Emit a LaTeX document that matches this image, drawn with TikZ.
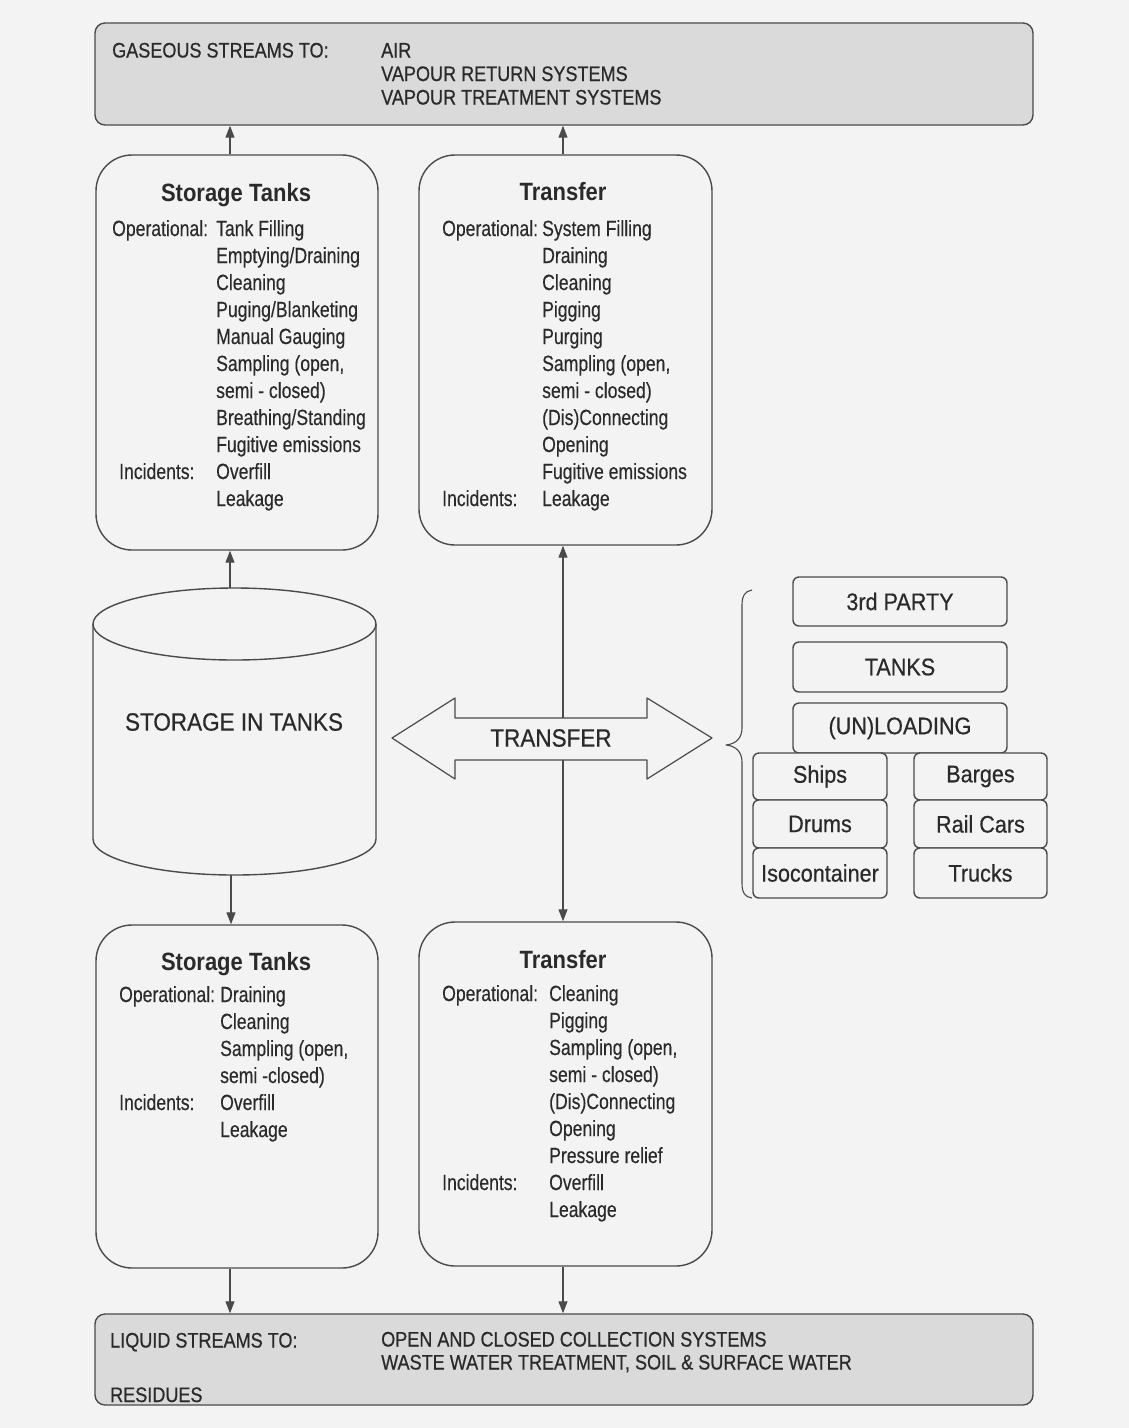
\documentclass[tikz,border=0pt]{standalone}
\usepackage{fontspec}
\setmainfont{Liberation Sans}
\newfontfamily\fbody{Liberation Sans}[FakeStretch=0.8,FakeBold=0.25]
\newfontfamily\ftitle{Liberation Sans}[FakeStretch=0.88]
\newfontfamily\fcaps{Liberation Sans}[FakeStretch=0.86,FakeBold=0.6]
\newfontfamily\fmid{Liberation Sans}[FakeStretch=0.9,FakeBold=0.5]
\usetikzlibrary{arrows.meta}
\definecolor{bg}{HTML}{F3F3F3}
\definecolor{boxgray}{HTML}{DADADA}
\definecolor{linec}{HTML}{4A4A4A}
\definecolor{textc}{HTML}{2A2A2A}
\begin{document}
\begin{tikzpicture}[x=1pt,y=1pt,line join=round,
  frame/.style={draw=linec,line width=1.4pt},
  graybox/.style={frame,fill=boxgray,rounded corners=10pt,inner sep=0pt},
  bigbox/.style={frame,fill=bg,rounded corners=36pt,inner sep=0pt},
  smallbox/.style={frame,fill=bg,rounded corners=6pt,inner sep=0pt,text=textc,font=\fmid\fontsize{24}{28}\selectfont},
  conn/.style={draw=linec,line width=1.2pt},
  tip/.style={-{Triangle[length=12pt,width=9pt]}},
  bodytxt/.style={inner sep=0pt,text=textc,anchor=base west,font=\fbody\fontsize{22}{27}\selectfont},
  titletxt/.style={inner sep=0pt,text=textc,anchor=base,font=\ftitle\bfseries\fontsize{25}{30}\selectfont},
  capstxt/.style={inner sep=0pt,text=textc,anchor=base west,font=\fcaps\fontsize{21}{24}\selectfont},
  midtxt/.style={inner sep=0pt,text=textc,font=\fmid\fontsize{25}{30}\selectfont}]
\fill[bg] (0,0) rectangle (1129,-1428);
\useasboundingbox (0,0) rectangle (1129,-1428);

% top and bottom grey boxes
\node[graybox,minimum width=938pt,minimum height=102pt] (gas) at (564,-74) {};
\node[capstxt] (gasA) at (112,-57.5) {GASEOUS STREAMS TO:};
\node[capstxt] (gasB) at (381,-57.5) {AIR};
\node[capstxt] (gasC) at (381,-81) {VAPOUR RETURN SYSTEMS};
\node[capstxt] (gasD) at (381,-104.5) {VAPOUR TREATMENT SYSTEMS};

\node[graybox,minimum width=938pt,minimum height=91pt] (liq) at (564,-1359.5) {};
\node[capstxt] (liqA) at (110,-1347.5) {LIQUID STREAMS TO:};
\node[capstxt] (liqB) at (381,-1346.5) {OPEN AND CLOSED COLLECTION SYSTEMS};
\node[capstxt] (liqC) at (381,-1369.5) {WASTE WATER TREATMENT, SOIL \& SURFACE WATER};
\node[capstxt] (liqD) at (110,-1402) {RESIDUES};

% upper boxes
\node[bigbox,minimum width=282pt,minimum height=395pt] (st1) at (237,-352.5) {};
\node[titletxt] (st1h) at (236,-201) {Storage Tanks};
\node[bodytxt] (st1t) at (112,-236) {\begin{tabular}[t]{@{}l@{}l@{}}
\makebox[104pt][l]{Operational:} & Tank Filling\\
 & Emptying/Draining\\
 & Cleaning\\
 & Puging/Blanketing\\
 & Manual Gauging\\
 & Sampling (open,\\
 & semi - closed)\\
 & Breathing/Standing\\
 & Fugitive emissions\\
\hspace*{7pt}Incidents: & Overfill\\
 & Leakage
\end{tabular}};

\node[bigbox,minimum width=293pt,minimum height=390pt] (tr1) at (565.5,-350) {};
\node[titletxt] (tr1h) at (563,-200) {Transfer};
\node[bodytxt] (tr1t) at (442,-236) {\begin{tabular}[t]{@{}l@{}l@{}}
\makebox[100pt][l]{Operational:} & System Filling\\
 & Draining\\
 & Cleaning\\
 & Pigging\\
 & Purging\\
 & Sampling (open,\\
 & semi - closed)\\
 & (Dis)Connecting\\
 & Opening\\
 & Fugitive emissions\\
Incidents: & Leakage
\end{tabular}};

% lower boxes
\node[bigbox,minimum width=282pt,minimum height=343pt] (st2) at (237,-1096.5) {};
\node[titletxt] (st2h) at (236,-970) {Storage Tanks};
\node[bodytxt] (st2t) at (119,-1002) {\begin{tabular}[t]{@{}l@{}l@{}}
\makebox[101pt][l]{Operational:} & Draining\\
 & Cleaning\\
 & Sampling (open,\\
 & semi -closed)\\
Incidents: & Overfill\\
 & Leakage
\end{tabular}};

\node[bigbox,minimum width=293pt,minimum height=344pt] (tr2) at (565.5,-1094) {};
\node[titletxt] (tr2h) at (563,-968) {Transfer};
\node[bodytxt] (tr2t) at (442,-1001) {\begin{tabular}[t]{@{}l@{}l@{}}
\makebox[107pt][l]{Operational:} & Cleaning\\
 & Pigging\\
 & Sampling (open,\\
 & semi - closed)\\
 & (Dis)Connecting\\
 & Opening\\
 & Pressure relief\\
Incidents: & Overfill\\
 & Leakage
\end{tabular}};

% storage tank cylinder
\node[minimum width=283pt,minimum height=287pt,inner sep=0pt] (tank) at (234.5,-731.5) {};
\draw[frame,fill=bg] (93,-624) -- (93,-839) arc[start angle=180,end angle=360,x radius=141.5,y radius=36] -- (376,-624);
\draw[frame,fill=bg] (234.5,-624) ellipse[x radius=141.5,y radius=36];
\node[midtxt] (tanklbl) at (234,-722) {STORAGE IN TANKS};

% connectors
\draw[conn,tip] ([xshift=-7pt]st1.north) -- ([xshift=-7pt]st1.north |- gas.south);
\draw[conn,tip] ([xshift=-2.5pt]tr1.north) -- ([xshift=-2.5pt]tr1.north |- gas.south);
\draw[conn,tip] ([xshift=-4.5pt]tank.north) -- ([xshift=-4.5pt]tank.north |- st1.south);
\draw[conn,tip] ([xshift=-3.5pt]tank.south) -- ([xshift=-3.5pt]tank.south |- st2.north);
\draw[conn,{Triangle[length=12pt,width=9pt]}-{Triangle[length=12pt,width=9pt]}] ([xshift=-2.5pt]tr1.south) -- ([xshift=-2.5pt]tr2.north);
\draw[conn,tip] ([xshift=-7pt]st2.south) -- ([xshift=-7pt]st2.south |- liq.north);
\draw[conn,tip] ([xshift=-2.5pt]tr2.south) -- ([xshift=-2.5pt]tr2.south |- liq.north);

% double arrow TRANSFER
\draw[frame,line width=1.2pt,fill=bg] (392,-738) -- (455,-698) -- (455,-718) -- (647,-718) -- (647,-698)
  -- (712,-738) -- (647,-779) -- (647,-760) -- (455,-760) -- (455,-779) -- cycle;
\node[midtxt] (trlbl) at (551,-738) {TRANSFER};

% brace
\draw[conn,line width=1.1pt] (752,-590) .. controls (745,-591) and (742,-596) .. (742,-605) -- (742,-728)
  .. controls (742,-738) and (736,-744) .. (726,-745) .. controls (736,-746) and (742,-752) .. (742,-762)
  -- (742,-883) .. controls (742,-893) and (745,-897) .. (752,-898);

% right side boxes
\node[smallbox,minimum width=214pt,minimum height=49pt] (party) at (900,-601.5) {3rd PARTY};
\node[smallbox,minimum width=214pt,minimum height=50pt] (tanks) at (900,-667) {TANKS};
\node[smallbox,minimum width=214pt,minimum height=50pt] (unload) at (900,-728) {(UN)LOADING};
\node[smallbox,minimum width=134pt,minimum height=47pt] (ships) at (820,-776.5) {Ships};
\node[smallbox,minimum width=134pt,minimum height=48pt] (drums) at (820,-824) {Drums};
\node[smallbox,minimum width=134pt,minimum height=50pt] (iso) at (820,-873) {Isocontainer};
\node[smallbox,minimum width=133pt,minimum height=47pt] (barges) at (980.5,-776.5) {Barges};
\node[smallbox,minimum width=133pt,minimum height=48pt] (rail) at (980.5,-824) {Rail Cars};
\node[smallbox,minimum width=133pt,minimum height=50pt] (trucks) at (980.5,-873) {Trucks};
\end{tikzpicture}
\end{document}
